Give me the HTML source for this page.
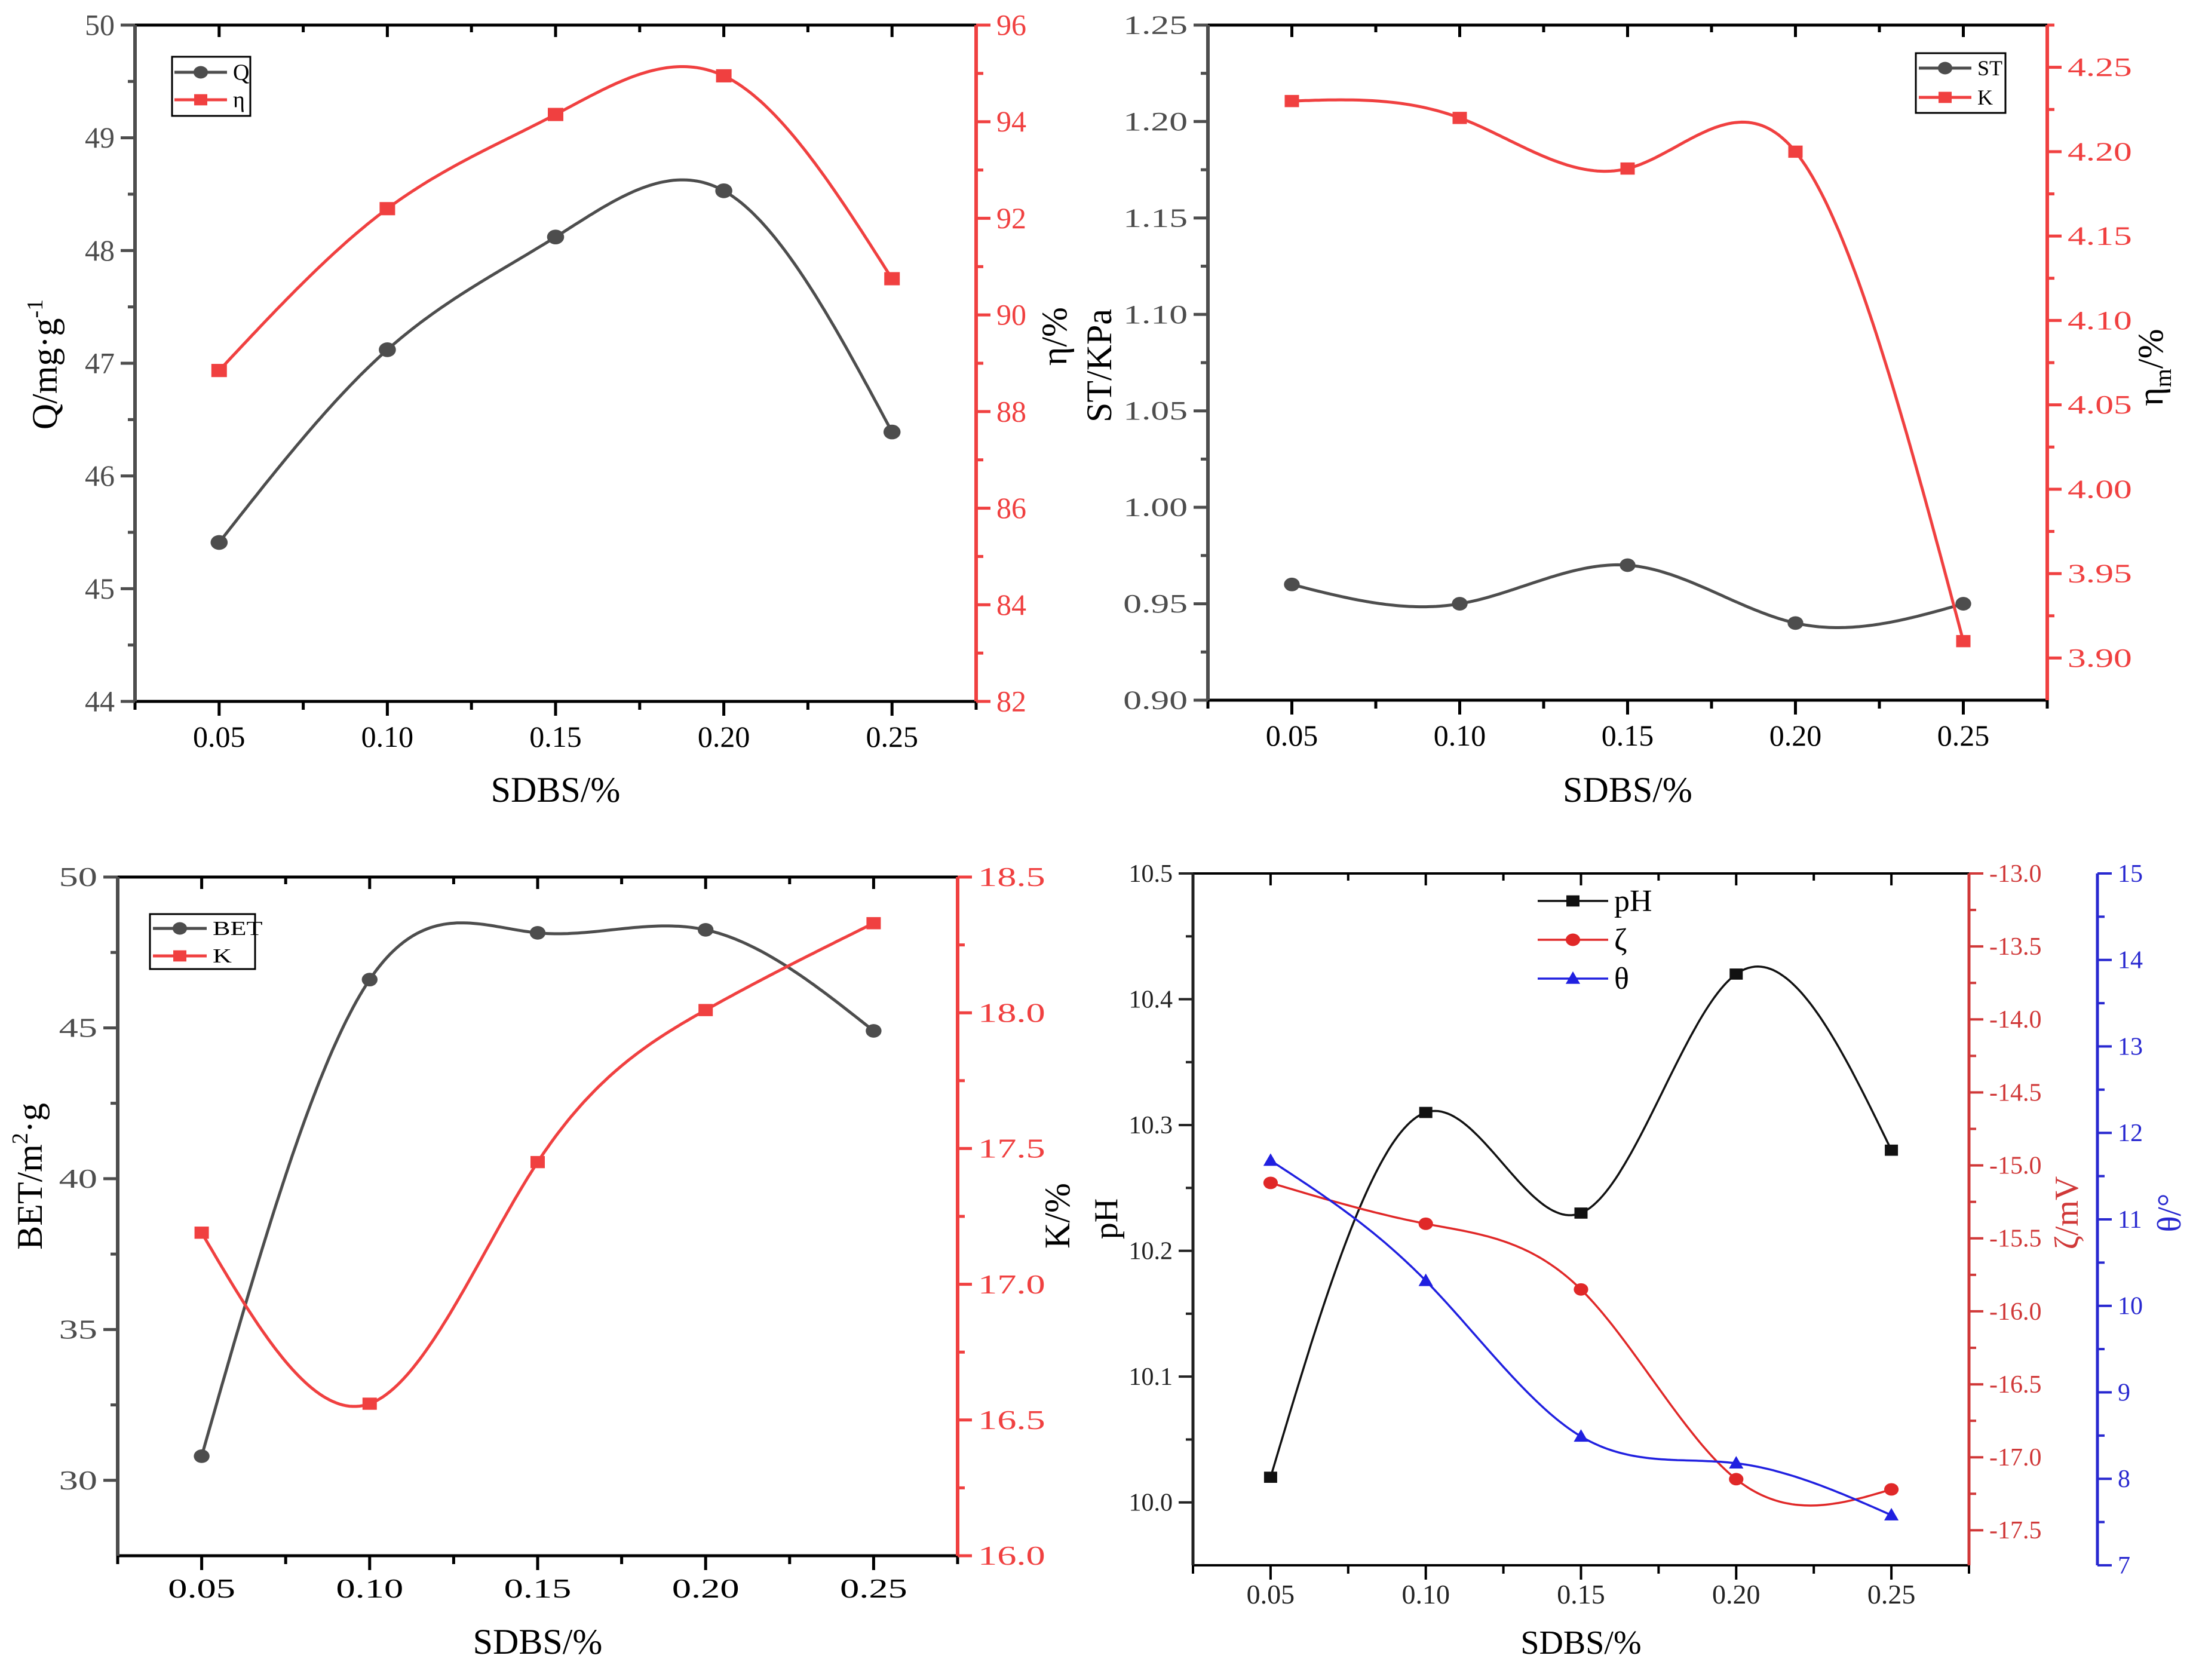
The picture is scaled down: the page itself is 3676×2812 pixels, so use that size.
<!DOCTYPE html>
<html><head><meta charset="utf-8"><style>
html,body{margin:0;padding:0;background:#fff;}
svg, svg text{font-family:"Liberation Serif","DejaVu Serif",serif;}
</style></head><body>
<svg id="fig" width="3676" height="2807" viewBox="0 0 3676 2807" xmlns="http://www.w3.org/2000/svg" font-family="Liberation Serif, DejaVu Serif, serif"></svg>
<script>
// ---- data ----
const xCats = [0.05, 0.10, 0.15, 0.20, 0.25];
const xTickLabels = ["0.05", "0.10", "0.15", "0.20", "0.25"];
// panel A
const qValues = [45.41, 47.12, 48.12, 48.53, 46.39];
const etaValues = [88.85, 92.2, 94.15, 94.95, 90.75];
// panel B
const stValues = [0.96, 0.95, 0.97, 0.94, 0.95];
const kmValues = [4.23, 4.22, 4.19, 4.20, 3.91];
// panel C
const betValues = [30.8, 46.6, 48.15, 48.25, 44.9];
const kValues = [17.19, 16.56, 17.45, 18.01, 18.33];
// panel D
const phValues = [10.02, 10.31, 10.23, 10.42, 10.28];
const zetaValues = [-15.12, -15.40, -15.85, -17.15, -17.22];
const thetaValues = [11.68, 10.29, 8.49, 8.18, 7.58];

const NS = "http://www.w3.org/2000/svg";
const FONT = '"Liberation Serif", "DejaVu Serif", serif';
const svg = document.getElementById('fig');
function el(tag, attrs, parent) {
  const e = document.createElementNS(NS, tag);
  for (const k in attrs) e.setAttribute(k, attrs[k]);
  if (tag === 'text') e.setAttribute('style', 'font-family:' + FONT);
  (parent || svg).appendChild(e);
  return e;
}
function spline(xs, ys) {
  const n = xs.length, h = [], a = [], l = [1], mu = [0], z = [0], c = new Array(n).fill(0), b = [], d = [];
  for (let i = 0; i < n - 1; i++) h.push(xs[i + 1] - xs[i]);
  for (let i = 1; i < n - 1; i++) a[i] = 3 / h[i] * (ys[i + 1] - ys[i]) - 3 / h[i - 1] * (ys[i] - ys[i - 1]);
  for (let i = 1; i < n - 1; i++) { l[i] = 2 * (xs[i + 1] - xs[i - 1]) - h[i - 1] * mu[i - 1]; mu[i] = h[i] / l[i]; z[i] = (a[i] - h[i - 1] * z[i - 1]) / l[i]; }
  for (let j = n - 2; j >= 0; j--) { c[j] = z[j] - mu[j] * c[j + 1]; b[j] = (ys[j + 1] - ys[j]) / h[j] - h[j] * (c[j + 1] + 2 * c[j]) / 3; d[j] = (c[j + 1] - c[j]) / (3 * h[j]); }
  return function (x) {
    let i = Math.min(n - 2, Math.max(0, xs.findIndex((v, k) => k < n - 1 && x <= xs[k + 1])));
    const dx = x - xs[i];
    return ys[i] + b[i] * dx + c[i] * dx * dx + d[i] * dx * dx * dx;
  };
}
function fmt(v, dec) { return v.toFixed(dec); }

function panel(cfg) {
  const g = el('g', {});
  
  
  const L = cfg.left, R = cfg.right, T = cfg.top, B = cfg.bottom;
  const sx = v => L + (v - 0.025) / 0.25 * (R - L);
  const fs = cfg.fs, stretch = cfg.stretch;
  function txt(x, y, s, attrs, name, size, st) {
    const t = el('text', Object.assign({x: 0, y: 0, 'font-size': size || fs}, attrs), g);
    t.setAttribute('transform', `translate(${x},${y}) scale(${st || stretch},1)`);
    t.textContent = s;
    
    
    return t;
  }
  el('line', {x1: L, y1: T, x2: R, y2: T, stroke: '#000', 'stroke-width': cfg.lw}, g);
  const xb = el('line', {x1: L, y1: B, x2: R, y2: B, stroke: '#000', 'stroke-width': cfg.lw}, g);
  
  
  for (let v = 0.025; v <= 0.2751; v += 0.025) {
    const x = sx(v), major = Math.abs((v / 0.05) - Math.round(v / 0.05)) < 1e-6;
    el('line', {x1: x, y1: B, x2: x, y2: B + (major ? 24 : 14), stroke: '#000', 'stroke-width': cfg.lw}, g);
    el('line', {x1: x, y1: T, x2: x, y2: T + (major ? 20 : 12), stroke: '#000', 'stroke-width': cfg.lw}, g);
  }
  xCats.forEach((v, i) => txt(sx(v), B + cfg.xtlOff, xTickLabels[i], {'text-anchor': 'middle', fill: cfg.xtlColor}, 'x-tick-label', cfg.xfs || fs, cfg.xstretch || stretch));
  const xt = el('text', {x: (L + R) / 2, y: cfg.xTitleY, 'font-size': cfg.tfs, 'text-anchor': 'middle', fill: '#000'}, g);
  xt.textContent = 'SDBS/%';
  
  
  const scales = [];
  cfg.axes.forEach((ax) => {
    const sy = v => B - (v - ax.min) / (ax.max - ax.min) * (B - T);
    scales.push(sy);
    const X = ax.x, dir = ax.side === 'left' ? -1 : 1;
    const al = el('line', {x1: X, y1: T, x2: X, y2: B, stroke: ax.color, 'stroke-width': cfg.lw + 1}, g);
    
    
    for (let v = ax.t0; v <= ax.max + 1e-9; v += ax.minor) {
      const y = sy(v), major = Math.abs((v - ax.t0) / ax.step - Math.round((v - ax.t0) / ax.step)) < 1e-6;
      el('line', {x1: X, y1: y, x2: X + dir * (major ? 24 : 12), y2: y, stroke: ax.color, 'stroke-width': cfg.lw}, g);
      if (major) txt(X + dir * 34, y + fs * 0.33, fmt(v, ax.dec), {'text-anchor': ax.side === 'left' ? 'end' : 'start', fill: ax.tcolor}, ax.name + '-tick-label');
    }
    const yt = el('text', {x: 0, y: 0, 'font-size': cfg.tfs, 'text-anchor': 'middle', fill: ax.titleColor || '#000', transform: `translate(${ax.tx},${ax.ty}) rotate(-90)`}, g);
    yt.innerHTML = ax.title;
    
    
  });
  cfg.series.forEach(s => {
    const sy = scales[s.axis];
    const f = spline(xCats, s.values);
    let d = '';
    for (let i = 0; i <= 200; i++) {
      const xv = 0.05 + 0.2 * i / 200;
      d += (i ? 'L' : 'M') + sx(xv).toFixed(1) + ',' + sy(f(xv)).toFixed(1);
    }
    const p = el('path', {d: d, fill: 'none', stroke: s.color, 'stroke-width': cfg.slw}, g);
    
    
    s.values.forEach((v, i) => {
      const m = marker(s.marker, sx(xCats[i]), sy(v), cfg.ms, s.color, g);
      
      
    });
  });
  const lg = cfg.legend;
  const lgG = el('g', {}, g);
  
  
  if (lg.box) el('rect', {x: lg.x, y: lg.y, width: lg.w, height: lg.h, fill: 'none', stroke: '#000', 'stroke-width': 3}, lgG);
  cfg.series.forEach((s, i) => {
    const y = lg.y0 + i * lg.dy;
    const e = el('g', {}, lgG);
    
    
    el('line', {x1: lg.lx, y1: y, x2: lg.lx + lg.len, y2: y, stroke: s.color, 'stroke-width': cfg.slw}, e);
    marker(s.marker, lg.lx + lg.len / 2, y, lg.ms, s.color, e);
    const t = el('text', {x: 0, y: 0, 'font-size': lg.fs, fill: '#000', transform: `translate(${lg.lx + lg.len + 10},${y + lg.fs * 0.33}) scale(${lg.stretch},1)`}, e);
    t.textContent = s.label;
  });
}
function marker(type, x, y, r, color, parent) {
  if (type === 'circle') return el('ellipse', {cx: x, cy: y, rx: r * 1.1, ry: r * 0.95, fill: color}, parent);
  if (type === 'square') return el('rect', {x: x - r, y: y - r * 0.85, width: 2 * r, height: 1.7 * r, fill: color}, parent);
  return el('polygon', {points: `${x},${y - r * 1.1} ${x - r * 1.1},${y + r * 0.8} ${x + r * 1.1},${y + r * 0.8}`, fill: color}, parent);
}
const GRAY = '#4d4d4d', RED = '#f04040';

panel({name: 'panel-q-eta', left: 226, right: 1634, top: 42, bottom: 1174, fs: 50, tfs: 60, stretch: 1, lw: 5, slw: 5, ms: 13,
  xtlOff: 76, xtlColor: '#000', xTitleY: 1342,
  axes: [
    {name: 'q', side: 'left', x: 226, min: 44, max: 50, t0: 44, step: 1, minor: 0.5, dec: 0, color: GRAY, tcolor: GRAY, title: 'Q/mg·g<tspan dy="-24" font-size="38">-1</tspan>', tx: 95, ty: 610},
    {name: 'eta', side: 'right', x: 1634, min: 82, max: 96, t0: 82, step: 2, minor: 1, dec: 0, color: RED, tcolor: RED, title: 'η/%', tx: 1785, ty: 563}],
  series: [
    {name: 'q', label: 'Q', axis: 0, values: qValues, color: GRAY, marker: 'circle'},
    {name: 'eta', label: 'η', axis: 1, values: etaValues, color: RED, marker: 'square'}],
  legend: {box: true, x: 288, y: 95, w: 131, h: 99, lx: 292, len: 88, y0: 121, dy: 46, ms: 11, fs: 38, stretch: 1}
});

panel({name: 'panel-st-k', left: 2022, right: 3427, top: 42, bottom: 1172, fs: 44, tfs: 60, stretch: 1.4, lw: 5, slw: 5, ms: 12,
  xtlOff: 76, xtlColor: '#000', xTitleY: 1342, xfs: 50, xstretch: 1,
  axes: [
    {name: 'st', side: 'left', x: 2022, min: 0.90, max: 1.25, t0: 0.90, step: 0.05, minor: 0.025, dec: 2, color: GRAY, tcolor: GRAY, title: 'ST/KPa', tx: 1860, ty: 612},
    {name: 'eta-m', side: 'right', x: 3427, min: 3.875, max: 4.275, t0: 3.90, step: 0.05, minor: 0.025, dec: 2, color: RED, tcolor: RED, title: 'η<tspan dy="14" font-size="40">m</tspan><tspan dy="-14">/%</tspan>', tx: 3620, ty: 615}],
  series: [
    {name: 'st', label: 'ST', axis: 0, values: stValues, color: GRAY, marker: 'circle'},
    {name: 'k-m', label: 'K', axis: 1, values: kmValues, color: RED, marker: 'square'}],
  legend: {box: true, x: 3207, y: 89, w: 150, h: 100, lx: 3212, len: 88, y0: 114, dy: 49, ms: 11, fs: 36, stretch: 1}
});

panel({name: 'panel-bet-k', left: 197, right: 1603, top: 1468, bottom: 2604, fs: 46, tfs: 60, stretch: 1.4, lw: 5, slw: 5, ms: 12,
  xtlOff: 70, xtlColor: '#000', xTitleY: 2768,
  axes: [
    {name: 'bet', side: 'left', x: 197, min: 27.5, max: 50, t0: 30, step: 5, minor: 2.5, dec: 0, color: GRAY, tcolor: GRAY, title: 'BET/m<tspan dy="-24" font-size="38">2</tspan><tspan dy="24">·g</tspan>', tx: 70, ty: 1969},
    {name: 'k', side: 'right', x: 1603, min: 16.0, max: 18.5, t0: 16.0, step: 0.5, minor: 0.25, dec: 1, color: RED, tcolor: RED, title: 'K/%', tx: 1790, ty: 2035}],
  series: [
    {name: 'bet', label: 'BET', axis: 0, values: betValues, color: GRAY, marker: 'circle'},
    {name: 'k', label: 'K', axis: 1, values: kValues, color: RED, marker: 'square'}],
  legend: {box: true, x: 251, y: 1530, w: 176, h: 92, lx: 256, len: 90, y0: 1554, dy: 46, ms: 11, fs: 34, stretch: 1.3}
});

panel({name: 'panel-ph-zeta-theta', left: 1997, right: 3296, top: 1462, bottom: 2620, fs: 42, tfs: 56, stretch: 1, lw: 4, slw: 3.5, ms: 11,
  xtlOff: 64, xtlColor: '#222', xTitleY: 2768, xfs: 46,
  axes: [
    {name: 'ph', side: 'left', x: 1997, min: 9.95, max: 10.5, t0: 10.0, step: 0.1, minor: 0.05, dec: 1, color: '#222', tcolor: '#222', title: 'pH', tx: 1870, ty: 2040},
    {name: 'zeta', side: 'right', x: 3296, min: -17.74, max: -13.0, t0: -17.5, step: 0.5, minor: 0.25, dec: 1, color: '#d03838', tcolor: '#d03838', titleColor: '#d03838', title: 'ζ/mV', tx: 3478, ty: 2030},
    {name: 'theta', side: 'right', x: 3511, min: 7, max: 15, t0: 7, step: 1, minor: 0.5, dec: 0, color: '#2828d0', tcolor: '#2828d0', titleColor: '#2828d0', title: 'θ/°', tx: 3650, ty: 2030}],
  series: [
    {name: 'ph', label: 'pH', axis: 0, values: phValues, color: '#111', marker: 'square'},
    {name: 'zeta', label: 'ζ', axis: 1, values: zetaValues, color: '#e02828', marker: 'circle'},
    {name: 'theta', label: 'θ', axis: 2, values: thetaValues, color: '#2020e0', marker: 'triangle'}],
  legend: {box: false, x: 0, y: 0, w: 0, h: 0, lx: 2574, len: 118, y0: 1508, dy: 65, ms: 11, fs: 52, stretch: 1}
});
</script>
</body></html>
